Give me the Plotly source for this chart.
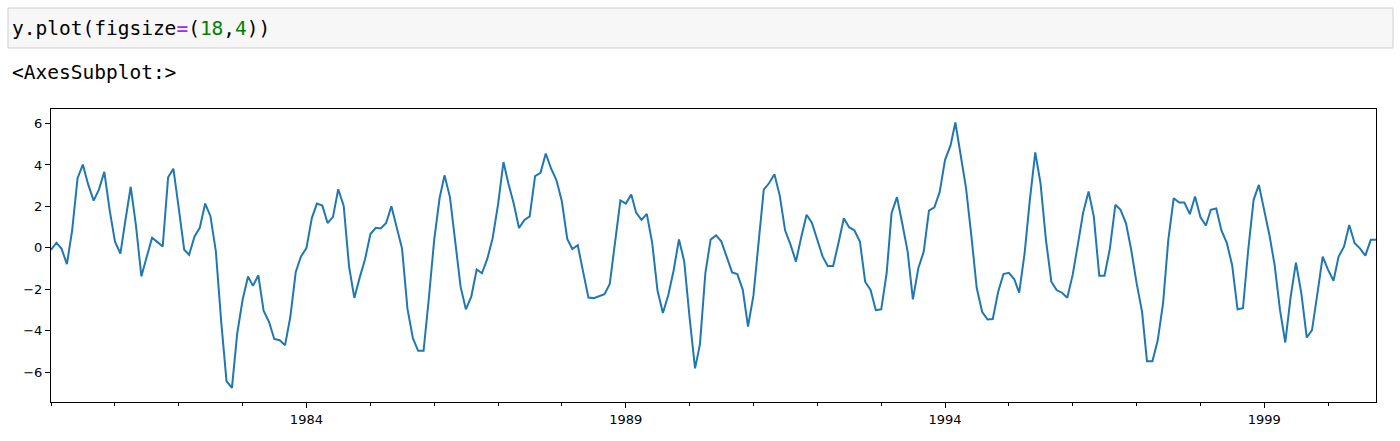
import pandas as pd
import plotly.graph_objects as go

# Monthly series, starting January 1980
vals_1980_1984 = [-0.1, 0.25, -0.03, -0.78, 0.85, 3.36, 4.02, 3.05, 2.28, 2.81, 3.67, 1.85,
                  0.3, -0.27, 1.3, 2.95, 1.08, -1.37, -0.45, 0.49, 0.28, 0.07, 3.41, 3.82,
                  1.9, -0.09, -0.33, 0.55, 0.97, 2.14, 1.53, -0.17, -3.6, -6.42, -6.75, -4.13,
                  -2.5, -1.38, -1.83, -1.32, -3.03, -3.56, -4.39, -4.45, -4.69, -3.32, -1.16, -0.41,
                  -0.01, 1.44, 2.14, 2.04, 1.2, 1.5, 2.83, 2.04, -0.9, -2.41, -1.42, -0.56]
vals_1985_1989 = [0.67, 0.97, 0.94, 1.2, 2.01, 1.04, -0.03, -2.94, -4.35, -4.96, -4.96, -2.45,
                  0.4, 2.42, 3.5, 2.45, 0.35, -1.88, -2.96, -2.35, -1.04, -1.22, -0.52, 0.47,
                  2.09, 4.14, 3.12, 2.13, 0.96, 1.35, 1.52, 3.46, 3.62, 4.55, 3.82, 3.27,
                  2.25, 0.43, -0.05, 0.13, -1.12, -2.39, -2.42, -2.34, -2.23, -1.74, 0.3, 2.29,
                  2.14, 2.58, 1.7, 1.35, 1.64, 0.23, -2.04, -3.14, -2.27, -1.1, 0.41, -0.65]
vals_1990_1994 = [-3.39, -5.81, -4.65, -1.21, 0.40, 0.61, 0.32, -0.48, -1.18, -1.26, -2.02, -3.79,
                  -2.29, 0.40, 2.81, 3.13, 3.55, 2.50, 0.85, 0.16, -0.66, 0.5, 1.6, 1.22,
                  0.42, -0.42, -0.87, -0.87, 0.23, 1.43, 1.0, 0.84, 0.31, -1.63, -2.03, -3.0,
                  -2.96, -1.22, 1.67, 2.45, 1.19, -0.18, -2.48, -0.98, -0.18, 1.8, 1.96, 2.69,
                  4.25, 4.93, 6.05, 4.49, 2.88, 0.55, -1.92, -3.08, -3.45, -3.43, -2.11, -1.26]
vals_1995_2000 = [-1.2, -1.51, -2.16, -0.26, 2.32, 4.61, 3.12, 0.39, -1.63, -2.03, -2.16, -2.40,
                  -1.30, 0.23, 1.71, 2.72, 1.51, -1.34, -1.34, -0.02, 2.08, 1.84, 1.19, -0.10,
                  -1.71, -3.08, -5.46, -5.46, -4.48, -2.67, 0.39, 2.40, 2.19, 2.19, 1.63, 2.48,
                  1.48, 1.08, 1.84, 1.90, 0.84, 0.23, -0.82, -2.96, -2.91, -0.10, 2.32, 3.04,
                  1.84, 0.55, -0.82, -3.00, -4.56, -2.35, -0.71, -2.19, -4.32, -3.96, -2.19, -0.42,
                  -1.06, -1.58, -0.42, 0.06, 1.11, 0.23, -0.02, -0.37, 0.39, 0.39]

values = vals_1980_1984 + vals_1985_1989 + vals_1990_1994 + vals_1995_2000
dates = pd.date_range("1980-01-01", periods=len(values), freq="MS")

major_years = [1984, 1989, 1994, 1999]
minor_years = list(range(1980, 2001))
y_ticks = [-6, -4, -2, 0, 2, 4, 6]

code_line = ('y.plot(figsize<span style="color:#AA22FF">=</span>('
             '<span style="color:#008000">18</span>,'
             '<span style="color:#008000">4</span>))')
output_line = "&lt;AxesSubplot:&gt;"

fig = go.Figure()
fig.add_trace(go.Scatter(x=dates, y=values, mode="lines",
                         line=dict(color="#1f77b4", width=2), hoverinfo="skip"))

W, H = 1400, 441
ml, mr, mt, mb = 51, 24, 109, 39
pw, ph = W - ml - mr, H - mt - mb


def px(x):
    return (x - ml) / pw


def py(y):
    return (H - mb - y) / ph


fig.update_layout(
    width=W, height=H,
    margin=dict(l=ml, r=mr, t=mt, b=mb),
    paper_bgcolor="white", plot_bgcolor="white",
    showlegend=False,
    font=dict(family="DejaVu Sans", size=13, color="black"),
    xaxis=dict(
        range=[dates[0], dates[-1]],
        tickmode="array",
        tickvals=[pd.Timestamp(f"{y}-01-01") for y in major_years],
        ticktext=[str(y) for y in major_years],
        ticks="outside", ticklen=5, tickwidth=1, tickcolor="black",
        showline=True, linecolor="black", linewidth=1, mirror=True,
        showgrid=False, zeroline=False,
        minor=dict(tickmode="array",
                   tickvals=[pd.Timestamp(f"{y}-01-01") for y in minor_years],
                   ticks="outside", ticklen=3, tickwidth=1, tickcolor="black",
                   showgrid=False),
        tickfont=dict(size=13),
    ),
    yaxis=dict(
        range=[-7.43, 6.70],
        tickmode="array", tickvals=y_ticks,
        ticks="outside", ticklen=5, tickwidth=1, tickcolor="black",
        showline=True, linecolor="black", linewidth=1, mirror=True,
        showgrid=False, zeroline=False,
        tickfont=dict(size=13),
    ),
)

# Notebook code cell box
fig.add_shape(type="rect", xref="paper", yref="paper",
              x0=px(8), x1=px(1393), y0=py(48), y1=py(8),
              fillcolor="#f7f7f7", line=dict(color="#cfcfcf", width=1), layer="below")

fig.add_annotation(xref="paper", yref="paper", x=px(10), y=py(29),
                   xanchor="left", yanchor="middle", showarrow=False,
                   text=code_line,
                   font=dict(family="DejaVu Sans Mono", size=19.5, color="black"))
fig.add_annotation(xref="paper", yref="paper", x=px(10), y=py(73),
                   xanchor="left", yanchor="middle", showarrow=False,
                   text=output_line,
                   font=dict(family="DejaVu Sans Mono", size=19.5, color="black"))

fig.write_html("out.html", config={"displayModeBar": False},
               post_script="document.body.style.margin='0px';")
